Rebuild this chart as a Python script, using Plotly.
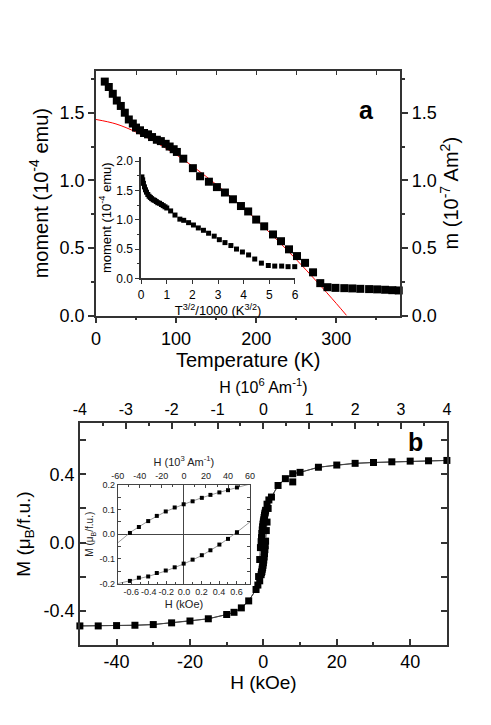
import plotly.graph_objects as go

# ---------------- Panel a: moment vs temperature ----------------
T_a = [11, 16, 21, 26, 31, 36, 41, 46, 50, 55, 60, 65, 70, 76, 81, 87, 92, 97, 101,
       109, 121, 130, 141, 151, 161, 171, 181, 190, 200, 210, 221, 231, 241, 251,
       261, 271, 280, 289, 299, 310, 320, 330, 341, 351, 361, 370, 378]
m_a = [1.73, 1.69, 1.64, 1.59, 1.55, 1.50, 1.45, 1.42, 1.39, 1.37, 1.35, 1.34, 1.32,
       1.30, 1.29, 1.27, 1.25, 1.23, 1.21, 1.16, 1.09, 1.03, 0.99, 0.95, 0.91, 0.86,
       0.81, 0.77, 0.71, 0.66, 0.60, 0.55, 0.49, 0.44, 0.39, 0.32, 0.24, 0.21, 0.205,
       0.203, 0.201, 0.198, 0.196, 0.194, 0.191, 0.188, 0.186]

# red fit curve
T_fit = [0, 25, 50, 75, 100, 125, 150, 175, 200, 225, 250, 275, 300, 313]
m_fit = [1.45, 1.417, 1.357, 1.28, 1.19, 1.085, 0.97, 0.845, 0.71, 0.566, 0.415, 0.256, 0.09, 0.0]

# inset a: moment vs T^(3/2)/1000
x_ins_a = [0.03, 0.06, 0.09, 0.13, 0.17, 0.21, 0.26, 0.31, 0.36, 0.41, 0.47, 0.53, 0.59,
           0.65, 0.72, 0.79, 0.86, 0.93, 1.00, 1.15, 1.32, 1.51, 1.66, 1.85, 2.04, 2.23,
           2.43, 2.63, 2.85, 3.05, 3.27, 3.50, 3.72, 3.95, 4.19, 4.43, 4.69, 4.96, 5.21,
           5.48, 5.73, 5.99]
m_ins_a = [1.73, 1.68, 1.62, 1.56, 1.51, 1.47, 1.43, 1.40, 1.38, 1.36, 1.34, 1.33, 1.31,
           1.29, 1.28, 1.26, 1.24, 1.22, 1.20, 1.15, 1.08, 1.01, 0.99, 0.95, 0.91, 0.86,
           0.82, 0.77, 0.72, 0.66, 0.61, 0.56, 0.50, 0.45, 0.40, 0.33, 0.26, 0.22, 0.21,
           0.21, 0.20, 0.20]

# ---------------- Panel b: hysteresis loop ----------------
H_pos = [50, 45, 40, 35, 30, 25, 20, 15, 10, 8, 6, 4, 2.2]
M_pos = [0.482, 0.480, 0.478, 0.474, 0.470, 0.465, 0.455, 0.442, 0.412, 0.404, 0.375, 0.335, 0.267]
H_neg = [-2.0, -4, -6, -8, -10, -15, -20, -25, -30, -35, -40, -45, -50]
M_neg = [-0.276, -0.343, -0.384, -0.41, -0.423, -0.448, -0.461, -0.472, -0.482, -0.486, -0.488, -0.490, -0.490]
H_extra = [8]
M_extra = [0.356]

# central branches (kOe) -- inset data plus a few points of the steep part
H_up = [-0.615, -0.513, -0.407, -0.309, -0.207, -0.105, -0.003, 0.099, 0.204, 0.302, 0.404, 0.502, 0.604]
M_up = [0.005, 0.029, 0.053, 0.074, 0.092, 0.108, 0.121, 0.133, 0.147, 0.159, 0.169, 0.178, 0.189]
H_lo = [-0.615, -0.513, -0.407, -0.309, -0.207, -0.105, -0.003, 0.099, 0.204, 0.302, 0.404, 0.502, 0.604]
M_lo = [-0.189, -0.176, -0.171, -0.157, -0.147, -0.134, -0.119, -0.103, -0.085, -0.065, -0.042, -0.019, 0.008]
H_down_ext_hi = [1.5, 1.0]
M_down_ext_hi = [0.25, 0.225]
H_down_ext_lo = [-0.8, -1.0, -1.3]
M_down_ext_lo = [-0.03, -0.10, -0.20]
H_up_ext_lo = [-1.5, -1.0]
M_up_ext_lo = [-0.25, -0.225]
H_up_ext_hi = [0.8, 1.0, 1.3]
M_up_ext_hi = [0.07, 0.12, 0.20]

# inset b grey guide lines
H_gl = [-0.754, -0.6, -0.4, -0.2, 0.0, 0.2, 0.4, 0.6, 0.754]
M_gl_up = [-0.035, 0.01, 0.055, 0.093, 0.121, 0.147, 0.169, 0.189, 0.203]
M_gl_lo = [-0.2, -0.188, -0.17, -0.148, -0.12, -0.087, -0.044, 0.007, 0.05]

# tick labels
ticks_a_x = [0, 100, 200, 300]
ticks_a_y = [0.0, 0.5, 1.0, 1.5]
ticks_ins_a_x = [0, 1, 2, 3, 4, 5, 6]
ticks_ins_a_y = [0.0, 0.5, 1.0, 1.5, 2.0]
ticks_b_x = [-40, -20, 0, 20, 40]
ticks_b_x_text = ["-40", "-20", "0", "20", "40"]
ticks_b_top = [-4, -3, -2, -1, 0, 1, 2, 3, 4]
ticks_b_top_text = ["-4", "-3", "-2", "-1", "0", "1", "2", "3", "4"]
ticks_b_y = [-0.4, 0.0, 0.4]
ticks_b_y_text = ["-0.4", "0.0", "0.4"]
ticks_ins_b_x = [-0.6, -0.4, -0.2, 0.0, 0.2, 0.4, 0.6]
ticks_ins_b_x_text = ["-0.6", "-0.4", "-0.2", "0.0", "0.2", "0.4", "0.6"]
ticks_ins_b_top = [-60, -40, -20, 0, 20, 40, 60]
ticks_ins_b_top_text = ["-60", "-40", "-20", "0", "20", "40", "60"]
ticks_ins_b_y = [-0.2, -0.1, 0.0, 0.1, 0.2]
ticks_ins_b_y_text = ["-0.2", "-0.1", "0.0", "0.1", "0.2"]

FONT = "Liberation Sans, Arial, sans-serif"
W, H = 491, 725

def px_x(a, b):
    return [a / W, b / W]

def px_y(top, bottom):
    return [1 - bottom / H, 1 - top / H]

def tf(size, color="black"):
    return dict(family=FONT, color=color, size=size)

fig = go.Figure()

# panel a traces
fig.add_trace(go.Scatter(x=T_fit, y=m_fit, mode="lines", line=dict(color="#ff0000", width=1, shape="spline"),
                         xaxis="x", yaxis="y", cliponaxis=True, hoverinfo="skip"))
fig.add_trace(go.Scatter(x=T_a, y=m_a, mode="markers", marker=dict(symbol="square", size=8, color="black"),
                         xaxis="x", yaxis="y", cliponaxis=False))
fig.add_trace(go.Scatter(x=[0], y=[0], mode="markers", marker=dict(opacity=0), xaxis="x", yaxis="y2",
                         hoverinfo="skip"))
fig.add_trace(go.Scatter(x=[0], y=[0], mode="markers", marker=dict(opacity=0), xaxis="x7", yaxis="y",
                         hoverinfo="skip"))
fig.add_trace(go.Scatter(x=x_ins_a, y=m_ins_a, mode="markers", marker=dict(symbol="square", size=5, color="black"),
                         xaxis="x2", yaxis="y3", cliponaxis=False))

# panel b traces
line_down_H = H_pos + H_down_ext_hi + H_up[::-1] + H_down_ext_lo + H_neg
line_down_M = M_pos + M_down_ext_hi + M_up[::-1] + M_down_ext_lo + M_neg
line_up_H = H_neg[::-1] + H_up_ext_lo + H_lo + H_up_ext_hi + H_pos[::-1]
line_up_M = M_neg[::-1] + M_up_ext_lo + M_lo + M_up_ext_hi + M_pos[::-1]
fig.add_trace(go.Scatter(x=line_down_H, y=line_down_M, mode="lines", line=dict(color="#444444", width=1),
                         xaxis="x3", yaxis="y4", hoverinfo="skip"))
fig.add_trace(go.Scatter(x=line_up_H, y=line_up_M, mode="lines", line=dict(color="#444444", width=1),
                         xaxis="x3", yaxis="y4", hoverinfo="skip"))
all_H = H_pos + H_neg + H_up + H_lo + H_down_ext_hi + H_down_ext_lo + H_up_ext_lo + H_up_ext_hi + H_extra
all_M = M_pos + M_neg + M_up + M_lo + M_down_ext_hi + M_down_ext_lo + M_up_ext_lo + M_up_ext_hi + M_extra
fig.add_trace(go.Scatter(x=all_H, y=all_M, mode="markers", marker=dict(symbol="square", size=7, color="black"),
                         xaxis="x3", yaxis="y4", cliponaxis=False))
fig.add_trace(go.Scatter(x=[0], y=[0], mode="markers", marker=dict(opacity=0), xaxis="x4", yaxis="y4",
                         hoverinfo="skip"))

# inset b traces
fig.add_trace(go.Scatter(x=H_gl, y=M_gl_up, mode="lines", line=dict(color="#9a9a9a", width=1),
                         xaxis="x5", yaxis="y5", hoverinfo="skip"))
fig.add_trace(go.Scatter(x=H_gl, y=M_gl_lo, mode="lines", line=dict(color="#9a9a9a", width=1),
                         xaxis="x5", yaxis="y5", hoverinfo="skip"))
fig.add_trace(go.Scatter(x=H_up + H_lo, y=M_up + M_lo, mode="markers",
                         marker=dict(symbol="square", size=4, color="black"),
                         xaxis="x5", yaxis="y5", cliponaxis=False))
fig.add_trace(go.Scatter(x=[0], y=[0], mode="markers", marker=dict(opacity=0), xaxis="x6", yaxis="y5",
                         hoverinfo="skip"))

ax_common = dict(showline=True, linecolor="#333333", linewidth=1.5, showgrid=False, zeroline=False,
                 tickcolor="#333333")

ins_common = dict(showgrid=False, tickcolor="#444444", tickangle=0)

fig.update_layout(
    width=W, height=H, margin=dict(l=0, r=0, t=0, b=0),
    paper_bgcolor="white", plot_bgcolor="rgba(0,0,0,0)", showlegend=False,
    font=dict(family=FONT, color="black", size=12),
    # ---- panel a
    xaxis=dict(**ax_common, domain=px_x(83, 395), range=[0, 380], anchor="y", tickfont=tf(18),
               tickvals=ticks_a_x, ticks="outside", ticklen=6, tickwidth=1.5, mirror=True,
               minor=dict(dtick=50, ticks="outside", ticklen=3, tickcolor="#333333"),
               title=dict(text="Temperature (K)", font=tf(20), standoff=4)),
    xaxis7=dict(showline=False, showgrid=False, zeroline=False, overlaying="x", side="top", anchor="y",
                range=[0, 380], dtick=50, ticks="inside", ticklen=4, tickwidth=1, tickcolor="#333333",
                showticklabels=False),
    yaxis=dict(**ax_common, domain=px_y(59, 309), range=[0, 1.81], anchor="x", tickfont=tf(18),
               tickvals=ticks_a_y, tickformat=".1f", ticks="outside", ticklen=6, tickwidth=1.5, mirror=True,
               minor=dict(dtick=0.25, ticks="outside", ticklen=3, tickcolor="#333333"),
               title=dict(text="moment (10<sup>-4</sup> emu)", font=tf(20), standoff=6)),
    yaxis2=dict(**ax_common, overlaying="y", side="right", anchor="x", range=[0, 1.81], tickfont=tf(18),
                tickvals=ticks_a_y, tickformat=".1f", ticks="outside", ticklen=6, tickwidth=1.5,
                minor=dict(dtick=0.25, ticks="outside", ticklen=3, tickcolor="#333333"),
                title=dict(text="m (10<sup>-7</sup> Am<sup>2</sup>)", font=tf(20), standoff=6)),
    # ---- inset a
    xaxis2=dict(**ax_common, domain=px_x(129.3, 287), range=[0, 6], anchor="y3", tickfont=tf(12),
                tickvals=ticks_ins_a_x, ticks="outside", ticklen=4, tickwidth=1,
                title=dict(text="T<sup>3/2</sup>/1000 (K<sup>3/2</sup>)", font=tf(13), standoff=2)),
    yaxis3=dict(**ax_common, domain=px_y(147, 271), range=[0, 2.07], anchor="x2", tickfont=tf(12),
                tickvals=ticks_ins_a_y, tickformat=".1f", ticks="outside", ticklen=4, tickwidth=1,
                minor=dict(dtick=0.25, ticks="outside", ticklen=2, tickcolor="#333333"),
                title=dict(text="moment (10<sup>-4</sup> emu)", font=tf(13), standoff=2)),
    # ---- panel b
    xaxis3=dict(**ax_common, domain=px_x(66.5, 442.7), range=[-50, 50], anchor="y4", tickfont=tf(18),
                tickvals=ticks_b_x, ticktext=ticks_b_x_text, ticks="inside", ticklen=6, tickwidth=1.5,
                mirror=True, minor=dict(dtick=10, ticks="inside", ticklen=3, tickcolor="#333333"),
                title=dict(text="H (kOe)", font=tf(19), standoff=4)),
    xaxis4=dict(**ax_common, overlaying="x3", side="top", anchor="y4", range=[-4, 4], tickfont=tf(16),
                tickvals=ticks_b_top, ticktext=ticks_b_top_text, ticks="inside", ticklen=6, tickwidth=1.5,
                minor=dict(dtick=0.5, ticks="inside", ticklen=3, tickcolor="#333333"),
                title=dict(text="H (10<sup>6</sup> Am<sup>-1</sup>)", font=tf(16), standoff=4)),
    yaxis4=dict(**ax_common, domain=px_y(419, 645), range=[-0.6, 0.7], anchor="x3", tickfont=tf(18),
                tickvals=ticks_b_y, ticktext=ticks_b_y_text, ticks="inside", ticklen=6, tickwidth=1.5,
                mirror="allticks", minor=dict(dtick=0.2, ticks="inside", ticklen=6, tickcolor="#333333"),
                title=dict(text="M (μ<sub>B</sub>/f.u.)", font=tf(19), standoff=8)),
    # ---- inset b
    xaxis5=dict(**ins_common, showline=True, linecolor="#444444", linewidth=1,
                zeroline=True, zerolinecolor="#444444", zerolinewidth=1, tickfont=tf(9, "#222222"),
                domain=px_x(105.3, 241), range=[-0.754, 0.754], anchor="y5",
                tickvals=ticks_ins_b_x, ticktext=ticks_ins_b_x_text, ticks="inside", ticklen=3, mirror=True,
                minor=dict(dtick=0.1, ticks="inside", ticklen=2, tickcolor="#444444"),
                title=dict(text="H (kOe)", font=tf(11, "#222222"), standoff=3)),
    xaxis6=dict(**ins_common, showline=False, zeroline=False, tickfont=tf(9, "#222222"),
                overlaying="x5", side="top", anchor="y5", range=[-60, 60], ticklabelstandoff=3,
                tickvals=ticks_ins_b_top, ticktext=ticks_ins_b_top_text, ticks="inside", ticklen=3,
                minor=dict(dtick=10, ticks="inside", ticklen=2, tickcolor="#444444"),
                title=dict(text="H (10<sup>3</sup> Am<sup>-1</sup>)", font=tf(11, "#222222"), standoff=2)),
    yaxis5=dict(**ins_common, showline=True, linecolor="#444444", linewidth=1,
                zeroline=True, zerolinecolor="#444444", zerolinewidth=1, tickfont=tf(9, "#222222"),
                domain=px_y(481.7, 582.7), range=[-0.2, 0.2], anchor="x5",
                tickvals=ticks_ins_b_y, ticktext=ticks_ins_b_y_text, ticks="inside", ticklen=3, mirror="allticks",
                minor=dict(dtick=0.05, ticks="inside", ticklen=2, tickcolor="#444444"),
                title=dict(text="M (μ<sub>B</sub>/f.u.)", font=tf(10, "#222222"), standoff=3)),
    annotations=[
        dict(text="<b>a</b>", x=370 / W, y=1 - 83 / H, xref="paper", yref="paper", showarrow=False,
             font=tf(25)),
        dict(text="<b>b</b>", x=420 / W, y=1 - 438 / H, xref="paper", yref="paper", showarrow=False,
             font=tf(25)),
    ],
)

fig.write_html("out.html")
